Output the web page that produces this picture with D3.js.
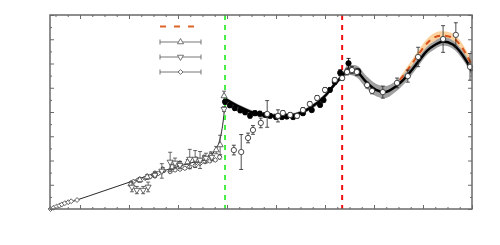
<!DOCTYPE html>
<html>
<head>
<meta charset="utf-8">
<script src="https://cdn.jsdelivr.net/npm/d3@7"></script>
<style>
  html, body { margin: 0; padding: 0; background: #fff; }
  svg { display: block; }
</style>
</head>
<body>
<script>
// ---- data ----
// thin low-energy curve
const lowCurveX = [0.39, 1.2, 2.0, 2.5, 3.0, 3.2, 3.45, 3.59, 3.69, 3.78, 3.84, 3.88, 3.92, 3.95, 3.96];
const lowCurveY = [0.0, 0.55, 1.1, 1.45, 1.75, 1.87, 2.0, 2.12, 2.27, 2.47, 2.76, 3.09, 3.59, 4.16, 4.4];

// main fit curve + error band half width
const fitX = [3.96, 4.27, 4.47, 4.88, 5.29, 5.69, 6.02, 6.20, 6.35, 6.47, 6.63, 6.84, 7.04, 7.22, 7.43, 7.67, 7.90, 8.08, 8.24, 8.41, 8.61, 8.82, 8.98, 9.0];
const fitY = [4.55, 4.2, 4.02, 3.85, 3.86, 4.16, 4.70, 5.15, 5.48, 5.74, 5.69, 5.24, 4.91, 4.82, 5.03, 5.48, 6.06, 6.52, 6.76, 6.91, 6.78, 6.31, 5.77, 5.69];
const fitErr = [0.08, 0.08, 0.08, 0.09, 0.09, 0.09, 0.1, 0.1, 0.12, 0.2, 0.24, 0.26, 0.26, 0.25, 0.22, 0.2, 0.18, 0.17, 0.17, 0.17, 0.17, 0.18, 0.2, 0.2];

// alternative (orange dashed) curve + band
const altX = [7.53, 7.73, 7.94, 8.14, 8.37, 8.57, 8.76, 8.92, 9.0];
const altY = [5.32, 5.86, 6.47, 6.95, 7.15, 7.09, 6.76, 6.23, 5.90];
const altErr = [0.12, 0.16, 0.17, 0.18, 0.18, 0.18, 0.18, 0.18, 0.18];

// thresholds
const greenLineX = 3.96;
const redLineX = 6.35;

// open diamonds
const diaX = [0.40, 0.46, 0.52, 0.58, 0.63, 0.69, 0.76, 0.82, 0.94,
  2.09, 2.19, 2.33, 2.43, 2.50, 2.60, 2.70, 2.84, 2.94, 3.04, 3.14, 3.24, 3.35, 3.45, 3.55, 3.65, 3.76, 3.85];
const diaY = [0.0, 0.05, 0.10, 0.14, 0.19, 0.24, 0.28, 0.32, 0.37,
  1.13, 1.20, 1.27, 1.33, 1.40, 1.47, 1.58, 1.54, 1.61, 1.64, 1.68, 1.74, 1.79, 1.88, 1.95, 1.98, 2.02, 2.14];
const diaErr = [0, 0, 0, 0, 0, 0, 0, 0, 0,
  0.05, 0.05, 0.05, 0.05, 0.05, 0.05, 0.05, 0.05, 0.05, 0.05, 0.05, 0.05, 0.05, 0.05, 0.05, 0.05, 0.05, 0.08];

// triangles up
const upX = [2.04, 2.22, 2.37, 2.53, 2.69, 2.88, 3.04, 3.20, 3.37, 3.53, 3.67, 3.78, 3.86, 3.94];
const upY = [1.03, 1.20, 1.32, 1.44, 1.61, 1.73, 1.86, 1.94, 2.02, 2.10, 2.23, 2.43, 2.64, 4.66];
const upErr = [0.1, 0.1, 0.1, 0.1, 0.1, 0.1, 0.1, 0.1, 0.1, 0.1, 0.12, 0.15, 0.4, 0.2];

// triangles down
const downX = [2.06, 2.16, 2.29, 2.39, 2.53, 2.67, 2.84, 2.94, 3.04, 3.24, 3.35, 3.45, 3.57, 3.69, 3.94];
const downY = [0.91, 0.78, 0.78, 0.91, 1.40, 1.57, 1.94, 1.90, 1.81, 2.06, 2.06, 2.02, 2.10, 2.14, 4.12];
const downErr = [0.2, 0.15, 0.15, 0.2, 0.1, 0.3, 0.4, 0.2, 0.15, 0.4, 0.35, 0.35, 0.2, 0.15, 0.1];

// open circles
const openX = [4.14, 4.29, 4.43, 4.53, 4.69, 4.82, 5.04, 5.14, 5.29, 5.43, 5.55, 5.69, 5.84, 6.00, 6.20, 6.35, 6.45, 6.55, 6.65, 6.86, 6.96, 7.18, 7.47, 7.69, 7.90, 8.41, 8.67, 8.96];
const openY = [2.43, 2.35, 2.93, 3.26, 3.55, 3.92, 3.84, 3.96, 3.88, 3.84, 4.08, 4.33, 4.58, 4.91, 5.32, 5.40, 5.65, 5.73, 5.65, 5.11, 4.87, 4.82, 5.20, 5.48, 6.27, 7.01, 7.18, 5.86];
const openErr = [0.2, 0.72, 0.2, 0.18, 0.2, 0.55, 0.25, 0.1, 0.1, 0.1, 0.1, 0.1, 0.1, 0.1, 0.1, 0.1, 0.12, 0.15, 0.15, 0.12, 0.12, 0.25, 0.2, 0.25, 0.4, 0.55, 0.5, 0.55];

// filled circles
const fullX = [3.96, 4.06, 4.16, 4.27, 4.37, 4.47, 4.57, 4.67, 4.78, 4.88, 5.00, 5.12, 5.22, 5.35, 5.55, 5.73, 5.90, 5.97, 6.10, 6.20, 6.31, 6.48, 6.68];
const fullY = [4.42, 4.28, 4.16, 4.07, 3.99, 3.85, 3.95, 3.93, 3.88, 3.84, 3.79, 3.79, 3.81, 3.79, 3.95, 4.08, 4.29, 4.49, 4.91, 5.24, 5.62, 6.01, 5.66];
const fullErr = [0.1, 0.1, 0.1, 0.1, 0.1, 0.1, 0.1, 0.1, 0.08, 0.08, 0.08, 0.08, 0.08, 0.08, 0.08, 0.08, 0.08, 0.08, 0.08, 0.1, 0.12, 0.2, 0.12];

// ---- layout ----
const W = 500, H = 245;
const margin = { top: 15, right: 28, bottom: 36, left: 50 };
const width = W - margin.left - margin.right;
const height = H - margin.top - margin.bottom;

const svg = d3.select("body").append("svg")
  .attr("width", W)
  .attr("height", H);

const g = svg.append("g").attr("transform", `translate(${margin.left},${margin.top})`);

const x = d3.scaleLinear().domain([0.388, 9]).range([0, width]);
const y = d3.scaleLinear().domain([0, 8]).range([height, 0]);

const zip = (xs, ys, es) => xs.map((v, i) => ({ x: v, y: ys[i], e: es ? es[i] : 0 }));

// bands
const area = d3.area().curve(d3.curveMonotoneX)
  .x(d => x(d.x)).y0(d => y(d.y - d.e)).y1(d => y(d.y + d.e));
const line = d3.line().curve(d3.curveMonotoneX)
  .x(d => x(d.x)).y(d => y(d.y));

g.append("path").datum(zip(altX, altY, altErr))
  .attr("d", area).attr("fill", "#fbd2a0");
g.append("path").datum(zip(fitX, fitY, fitErr))
  .attr("d", area).attr("fill", "#a0a0a0");

// curves
g.append("path").datum(zip(lowCurveX, lowCurveY))
  .attr("d", line).attr("fill", "none").attr("stroke", "#111").attr("stroke-width", 0.9);
g.append("path").datum(zip(fitX, fitY))
  .attr("d", line).attr("fill", "none").attr("stroke", "#000").attr("stroke-width", 2.4);
g.append("path").datum(zip(altX, altY))
  .attr("d", line).attr("fill", "none").attr("stroke", "#d8531c")
  .attr("stroke-width", 2).attr("stroke-dasharray", "6,5");

// threshold lines
g.append("line").attr("x1", x(greenLineX)).attr("x2", x(greenLineX))
  .attr("y1", 0).attr("y2", height)
  .attr("stroke", "#44ee44").attr("stroke-width", 2).attr("stroke-dasharray", "5,5");
g.append("line").attr("x1", x(redLineX)).attr("x2", x(redLineX))
  .attr("y1", 0).attr("y2", height)
  .attr("stroke", "#ee1111").attr("stroke-width", 2).attr("stroke-dasharray", "5,5");

// error bars + markers
function drawSeries(data, sym, color, fill, size, rot) {
  const s = g.append("g");
  const eb = s.selectAll(".eb").data(data.filter(d => d.e > 0)).join("g");
  eb.append("line")
    .attr("x1", d => x(d.x)).attr("x2", d => x(d.x))
    .attr("y1", d => y(d.y - d.e)).attr("y2", d => y(d.y + d.e))
    .attr("stroke", color).attr("stroke-width", 0.8);
  [-1, 1].forEach(k => {
    eb.append("line")
      .attr("x1", d => x(d.x) - 2).attr("x2", d => x(d.x) + 2)
      .attr("y1", d => y(d.y + k * d.e)).attr("y2", d => y(d.y + k * d.e))
      .attr("stroke", color).attr("stroke-width", 0.8);
  });
  s.selectAll("path").data(data).join("path")
    .attr("d", d3.symbol().type(sym).size(size))
    .attr("transform", d => `translate(${x(d.x)},${y(d.y)}) rotate(${rot || 0})`)
    .attr("fill", fill).attr("stroke", color).attr("stroke-width", 0.8);
}

drawSeries(zip(diaX, diaY, diaErr), d3.symbolSquare, "#444", "#fff", 12, 45);
drawSeries(zip(upX, upY, upErr), d3.symbolTriangle, "#444", "#fff", 16, 0);
drawSeries(zip(downX, downY, downErr), d3.symbolTriangle, "#444", "#fff", 16, 180);
drawSeries(zip(fullX, fullY, fullErr), d3.symbolCircle, "#000", "#000", 22, 0);
drawSeries(zip(openX, openY, openErr), d3.symbolCircle, "#222", "#fff", 22, 0);

// axes (ticks inward, no labels)
const xMajor = d3.range(1, 10);
const xMinor = d3.range(0.5, 9.01, 0.25).filter(v => v % 1 !== 0 && v > 0.4);
const yMajor = d3.range(0, 9);
const yMinor = d3.range(0.5, 8, 1);
const axisColor = "#6a6a6a";

function addAxis(axisFn, ticks, len, transform) {
  const a = g.append("g").attr("transform", transform)
    .call(axisFn.tickValues(ticks).tickSize(-len).tickFormat(""));
  a.select(".domain").remove();
  a.selectAll("line").attr("stroke", axisColor);
}
addAxis(d3.axisBottom(x), xMajor, 4, `translate(0,${height})`);
addAxis(d3.axisBottom(x), xMinor, 2, `translate(0,${height})`);
addAxis(d3.axisTop(x), xMajor, 4, "translate(0,0)");
addAxis(d3.axisTop(x), xMinor, 2, "translate(0,0)");
addAxis(d3.axisLeft(y), yMajor, 4, "translate(0,0)");
addAxis(d3.axisLeft(y), yMinor, 2, "translate(0,0)");
addAxis(d3.axisRight(y), yMajor, 4, `translate(${width},0)`);
addAxis(d3.axisRight(y), yMinor, 2, `translate(${width},0)`);

g.append("rect").attr("width", width).attr("height", height)
  .attr("fill", "none").attr("stroke", axisColor).attr("stroke-width", 1.5);

// legend (text not shown in the picture)
const leg = svg.append("g");
leg.append("line").attr("x1", 160).attr("x2", 195).attr("y1", 26.5).attr("y2", 26.5)
  .attr("stroke", "#dd6428").attr("stroke-width", 2).attr("stroke-dasharray", "6,8");
const legSyms = [
  { sym: d3.symbolTriangle, rot: 0, size: 16 },
  { sym: d3.symbolTriangle, rot: 180, size: 16 },
  { sym: d3.symbolSquare, rot: 45, size: 12 }
];
legSyms.forEach((d, i) => {
  const yy = 42 + i * 15;
  const row = leg.append("g").attr("stroke", "#666").attr("stroke-width", 0.9);
  row.append("line").attr("x1", 160).attr("x2", 201).attr("y1", yy).attr("y2", yy);
  row.append("line").attr("x1", 160).attr("x2", 160).attr("y1", yy - 2.5).attr("y2", yy + 2.5);
  row.append("line").attr("x1", 201).attr("x2", 201).attr("y1", yy - 2.5).attr("y2", yy + 2.5);
  row.append("path").attr("d", d3.symbol().type(d.sym).size(d.size))
    .attr("transform", `translate(180.5,${yy}) rotate(${d.rot})`)
    .attr("fill", "#fff");
});
</script>
</body>
</html>
